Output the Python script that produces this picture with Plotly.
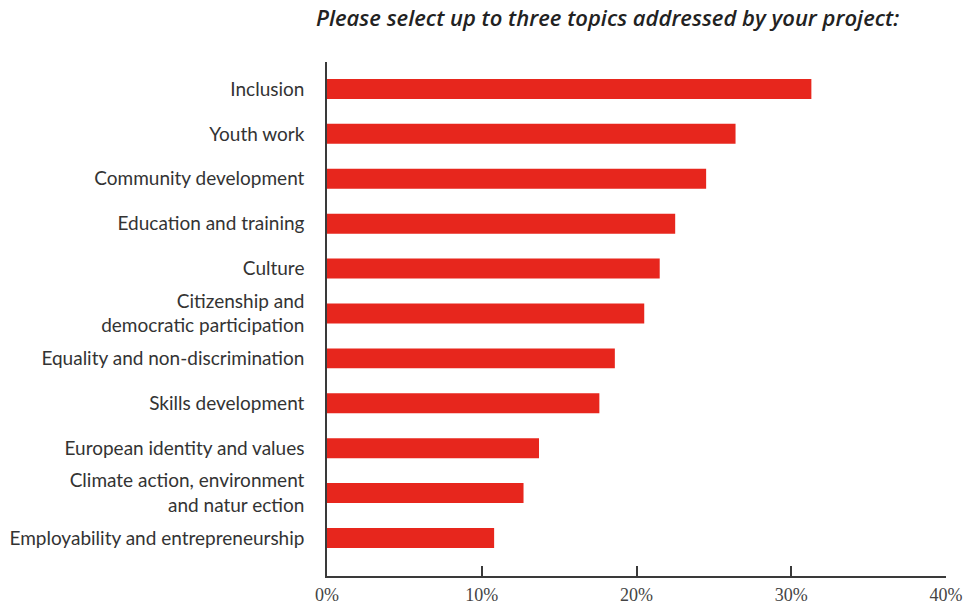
import plotly.graph_objects as go

# Topics, listed top to bottom
topics = [
    "Inclusion",
    "Youth work",
    "Community development",
    "Education and training",
    "Culture",
    "Citizenship and<br>democratic participation",
    "Equality and non-discrimination",
    "Skills development",
    "European identity and values",
    "Climate action, environment<br>and natur ection",
    "Employability and entrepreneurship",
]
# Share of projects selecting each topic (%)
shares = [31.3, 26.4, 24.5, 22.5, 21.5, 20.5, 18.6, 17.6, 13.7, 12.7, 10.8]

tick_vals = [0, 10, 20, 30, 40]
tick_text = ["0%", "10%", "20%", "30%", "40%"]

title_text = "Please select up to three topics addressed by your project:"

bar_red = "#e7261d"
axis_grey = "#3a3a3a"
label_grey = "#333333"

fig = go.Figure(
    go.Bar(
        x=shares,
        y=topics,
        orientation="h",
        marker=dict(color=bar_red, line=dict(width=0)),
        width=0.445,
        hoverinfo="skip",
    )
)

fig.update_layout(
    width=969,
    height=606,
    margin=dict(l=327, r=23, t=62, b=30),
    paper_bgcolor="white",
    plot_bgcolor="white",
    showlegend=False,
    font=dict(family="Lato", color=label_grey),
)

fig.update_xaxes(
    range=[0, 40],
    tickvals=tick_vals,
    ticktext=tick_text,
    ticks="inside",
    ticklen=10,
    tickwidth=1.5,
    tickcolor=axis_grey,
    showline=True,
    linecolor=axis_grey,
    linewidth=1.5,
    showgrid=False,
    zeroline=False,
    automargin=False,
    tickfont=dict(family="Liberation Serif", size=18, color="#444444"),
    ticklabelstandoff=2,
)

fig.update_yaxes(
    type="category",
    categoryorder="array",
    categoryarray=topics,
    range=[len(topics) - 1 + 0.846, -0.6],
    showline=True,
    linecolor=axis_grey,
    linewidth=1.5,
    ticks="",
    showgrid=False,
    zeroline=False,
    automargin=False,
    tickfont=dict(family="Lato", size=19, color=label_grey),
    ticklabelstandoff=17,
)

# Question heading above the bars
fig.add_annotation(
    text="<i>" + title_text + "</i>",
    xref="paper",
    yref="paper",
    x=(607 - 327) / (969 - 327 - 23),
    xanchor="center",
    y=1.0,
    yanchor="bottom",
    yshift=28,
    showarrow=False,
    font=dict(family="Open Sans", size=22, color="#222222", weight=600),
)

fig.write_html("out.html")
